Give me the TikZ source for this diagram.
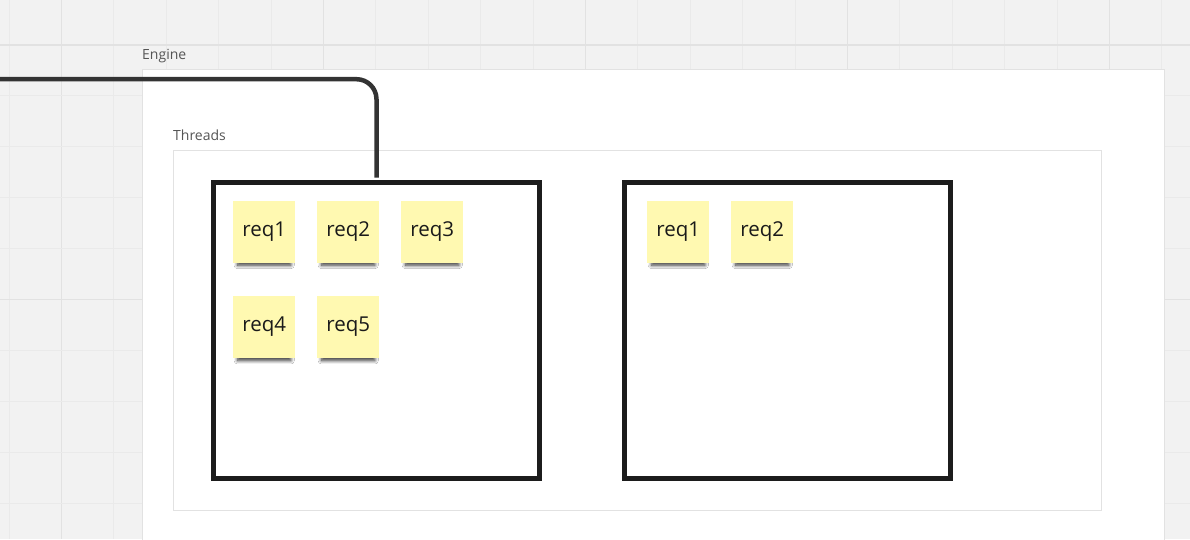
\documentclass[tikz,border=0pt]{standalone}
\usepackage{fontspec}
\setmainfont{Open Sans}
\usetikzlibrary{shadows.blur}
\definecolor{bg}{HTML}{F2F2F2}
\definecolor{gridminor}{HTML}{EAEAEA}
\definecolor{gridmajor}{HTML}{E2E2E2}
\definecolor{frameline}{HTML}{E2E2E2}
\definecolor{labelgray}{HTML}{555555}
\definecolor{boxdark}{HTML}{1C1C1C}
\definecolor{wire}{HTML}{333333}
\definecolor{stickyfill}{HTML}{FFF9B1}
\definecolor{stickytext}{HTML}{1A1A1A}
\tikzset{
  framebox/.style={draw=frameline, line width=1pt, fill=white},
  framelabel/.style={anchor=base west, inner sep=0pt, text=labelgray, font=\fontsize{14}{16}\selectfont},
  threadbox/.style={draw=boxdark, line width=5pt},
  sticky/.style={fill=stickyfill, minimum width=62pt, minimum height=62pt, inner sep=0pt,
    text=stickytext, font=\fontsize{20.5}{24}\selectfont,
    blur shadow={shadow xshift=0pt, shadow yshift=-8pt, shadow scale=0.86, shadow blur radius=4pt, shadow blur steps=10, shadow opacity=80}},
  wireline/.style={draw=wire, line width=4.5pt, rounded corners=20pt}
}
\begin{document}
\begin{tikzpicture}[x=1pt,y=-1pt]
\useasboundingbox (0,0) rectangle (1190,539);
\fill[bg] (0,0) rectangle (1190,539);
% grid
\foreach \k in {0,...,22}{
  \pgfmathsetmacro{\gx}{9+52.4*\k}
  \draw[gridminor, line width=1pt] (\gx,0) -- (\gx,539);
}
\foreach \k in {1,6,11,16,21}{
  \pgfmathsetmacro{\gx}{9+52.4*\k}
  \draw[gridmajor, line width=1.2pt] (\gx,0) -- (\gx,539);
}
\foreach \k in {-1,...,10}{
  \pgfmathsetmacro{\gy}{45+50.9*\k}
  \draw[gridminor, line width=1pt] (0,\gy) -- (1190,\gy);
}
\foreach \k in {0,5}{
  \pgfmathsetmacro{\gy}{45+50.9*\k}
  \draw[gridmajor, line width=1.2pt] (0,\gy) -- (1190,\gy);
}
% frames
\draw[framebox] (142,69.5) rectangle (1164,560);
\node[framelabel] (enginelabel) at (142,59) {Engine};
\draw[framebox] (173.5,150.5) rectangle (1101,510);
\node[framelabel] (threadslabel) at (173,140) {Threads};
% thread boxes
\node[threadbox, minimum width=326pt, minimum height=295.8pt, inner sep=0pt] (t1) at (376.75,330.6) {};
\node[threadbox, minimum width=326pt, minimum height=295.8pt, inner sep=0pt] (t2) at (787,330.6) {};
% connector
\coordinate (wirestart) at (-5,79.2);
\coordinate (wireend) at (376.5,177.5);
\draw[wireline] (wirestart) -| (wireend);
% stickies
\node[sticky] (a1) at (264.2,231.7) {req1};
\node[sticky] (a2) at (348.2,231.7) {req2};
\node[sticky] (a3) at (432.2,231.7) {req3};
\node[sticky] (a4) at (264.2,327) {req4};
\node[sticky] (a5) at (348.2,327) {req5};
\node[sticky] (b1) at (678.3,231.7) {req1};
\node[sticky] (b2) at (762.2,231.7) {req2};
\end{tikzpicture}
\end{document}
